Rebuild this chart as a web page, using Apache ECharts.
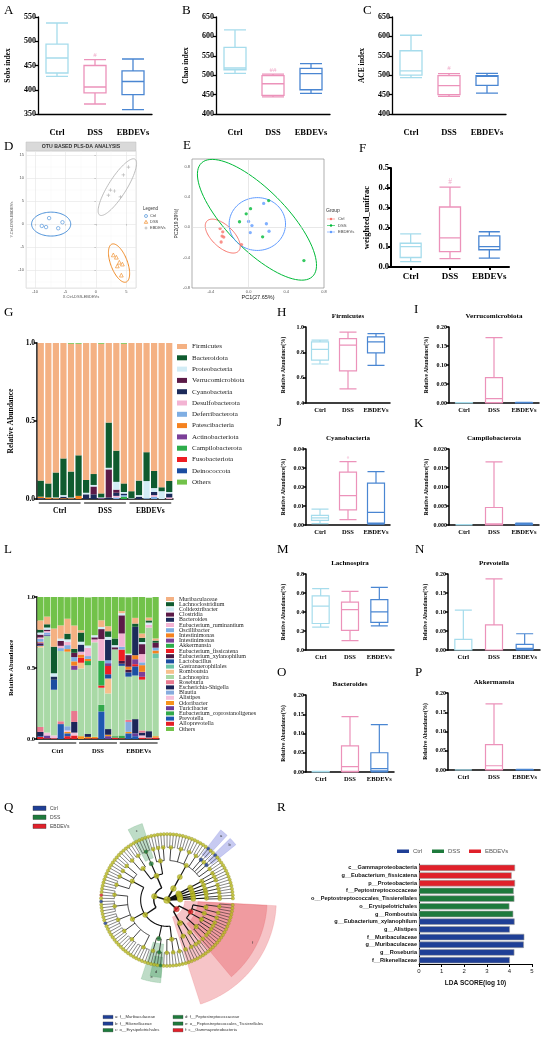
<!DOCTYPE html>
<html>
<head>
<meta charset="utf-8">
<title>Gut microbiota figure</title>
<script src="https://cdn.jsdelivr.net/npm/echarts@6.0.0/dist/echarts.min.js"></script>
<style>
  html, body { margin: 0; padding: 0; background: #fff; }
  #fig { width: 550px; height: 1040px; }
</style>
</head>
<body>
<div id="fig"></div>
<script>
// ---------------- data ----------------
const groups = ["Ctrl", "DSS", "EBDEVs"];
const samples = ["C1", "C2", "C3", "C4", "C5", "C6", "D1", "D2", "D3", "D4", "D5", "D6", "E1", "E2", "E3", "E4", "E5", "E6"];
const groupSpans = [[0, 5], [6, 11], [12, 17]];

// boxes: [min, Q1, median, Q3, max] for Ctrl, DSS, EBDEVs
const sobsIndex = [[427.6, 434.5, 465.5, 494, 537.6], [370.6, 393.4, 405.7, 450, 462], [359, 389.8, 417, 439, 463.4]];
const chaoIndex = [[504.6, 514, 518.6, 571.7, 617], [444, 448, 478, 498.7, 503], [453, 462.5, 504, 517.6, 529.7]];
const aceIndex = [[494, 500, 511, 563, 603], [445.5, 450, 473, 499, 504], [454, 474, 497, 499, 504.6]];
const unifracDist = [[0.027, 0.048, 0.103, 0.12, 0.167], [0.042, 0.078, 0.147, 0.303, 0.403], [0.045, 0.087, 0.103, 0.157, 0.178]];
const firmicutesBox = [[0.708, 0.739, 0.823, 0.883, 0.896], [0.512, 0.653, 0.857, 0.909, 0.96], [0.697, 0.796, 0.883, 0.922, 0.948]];
const verrucoBox = [[0, 0, 0, 0.0005, 0.001], [0, 0.001, 0.0114, 0.0667, 0.172], [0, 0, 0.0005, 0.001, 0.002]];
const cyanoBox = [[0.0007, 0.0024, 0.0037, 0.0051, 0.0084], [0.0028, 0.008, 0.0155, 0.0278, 0.0334], [0.0005, 0.001, 0.0066, 0.022, 0.0281]];
const campiloBox = [[0, 0, 0, 0, 0.0001], [0, 0, 0.0003, 0.0046, 0.0166], [0, 0.0001, 0.0002, 0.0003, 0.0005]];
const lachnospiraBox = [[0.241, 0.279, 0.461, 0.569, 0.646], [0.098, 0.206, 0.426, 0.503, 0.618], [0.255, 0.29, 0.402, 0.531, 0.66]];
const prevotellaBox = [[0, 0, 0, 0.028, 0.105], [0, 0, 0, 0.066, 0.187], [0, 0.002, 0.0044, 0.0148, 0.0428]];
const bacteroidesBox = [[0, 0, 0, 0.001, 0.002], [0, 0.002, 0.014, 0.068, 0.144], [0, 0.003, 0.009, 0.05, 0.123]];
const akkermansiaBox = [[0, 0, 0, 0, 0.0005], [0, 0.001, 0.011, 0.066, 0.172], [0, 0, 0.0005, 0.001, 0.0015]];

// PLS-DA scores (D) and ellipses [cx, cy, ux, uy, vx, vy]
const plsCtrl = [[-7.7, 1.3], [-8.9, -0.4], [-8.2, -0.65], [-6.2, -0.9], [-5.5, 0.4]];
const plsDss = [[2.87, -6.7], [3.37, -7.2], [3.86, -8.3], [3.53, -9.1], [4.36, -8.7], [4.19, -11.1]];
const plsEbdevs = [[5.35, 12.4], [4.52, 10.7], [2.38, 7.4], [3.04, 7.2], [2.05, 6.3], [4.03, 5.9]];
const plsEllipses = [[-7.36, 0, 3.22, 0, 0, 2.6], [3.81, -8.48, -1.16, 4.13, 1.3, 0.6], [3.53, 8.04, 2.9, 6.08, 1.26, -1.04]];

// PCoA (E)
const pcCtrl = [[-0.302, -0.017], [-0.274, -0.06], [-0.281, -0.116], [-0.263, -0.129], [-0.291, -0.194], [-0.075, -0.228]];
const pcDss = [[-0.096, 0.073], [-0.025, 0.177], [0.021, 0.245], [0.213, 0.352], [0.149, -0.125], [0.587, -0.439]];
const pcEbdevs = [[0.16, 0.314], [0, 0.077], [0.036, 0.022], [0.018, -0.069], [0.189, 0.047], [0.217, -0.052]];
const pcEllipses = [[-0.274, -0.116, 0.166, -0.2, 0.083, 0.1], [0.089, 0.099, 0.587, -0.75, 0.233, 0.266], [0.093, 0.043, 0.299, 0, 0, 0.348]];

// phylum relative abundance (G), 18 samples
const firmicutes = [0.882, 0.90, 0.83, 0.74, 0.819, 0.715, 0.878, 0.84, 0.959, 0.51, 0.69, 0.895, 0.95, 0.882, 0.70, 0.82, 0.925, 0.884];
const bacteroidota = [0.103, 0.09, 0.16, 0.235, 0.166, 0.26, 0.082, 0.07, 0.026, 0.29, 0.20, 0.055, 0.045, 0.093, 0.185, 0.11, 0.025, 0.071];
const proteobacteria = [0, 0, 0.005, 0.01, 0, 0, 0.01, 0.01, 0.005, 0.01, 0.05, 0.01, 0.005, 0.01, 0.11, 0.025, 0.05, 0.01];
const verrucomicrobiota = [0, 0, 0, 0, 0, 0, 0, 0.05, 0, 0.18, 0.02, 0, 0, 0, 0, 0, 0, 0];
const cyanobacteria = [0, 0, 0, 0.01, 0, 0, 0.03, 0.03, 0, 0.01, 0.02, 0.01, 0, 0.015, 0, 0.02, 0, 0.025];
const desulfobacterota = [0, 0, 0, 0, 0, 0, 0, 0, 0, 0, 0.01, 0, 0, 0, 0, 0.01, 0, 0.01];
const deferribacterota = [0, 0, 0, 0, 0.005, 0, 0, 0, 0, 0, 0.01, 0.01, 0, 0, 0.005, 0.015, 0, 0];
const patescibacteria = [0.01, 0.01, 0.005, 0.005, 0.005, 0.02, 0, 0, 0, 0, 0, 0, 0, 0, 0, 0, 0, 0];
const actinobacteriota = [0, 0, 0, 0, 0, 0, 0, 0, 0.005, 0, 0, 0, 0, 0, 0, 0, 0, 0];
const campilobacterota = [0, 0, 0, 0, 0, 0, 0, 0, 0, 0, 0, 0.015, 0, 0, 0, 0, 0, 0];
const fusobacteriota = [0, 0, 0, 0, 0, 0, 0, 0, 0, 0, 0, 0, 0, 0, 0, 0, 0, 0];
const deinococcota = [0.005, 0, 0, 0, 0, 0, 0, 0, 0, 0, 0, 0, 0, 0, 0, 0, 0, 0];
const phylumOthers = [0, 0, 0, 0, 0.005, 0.005, 0, 0, 0.005, 0, 0, 0.005, 0, 0, 0, 0, 0, 0];
const phylumNames = ["Firmicutes", "Bacteroidota", "Proteobacteria", "Verrucomicrobiota", "Cyanobacteria", "Desulfobacterota", "Deferribacterota", "Patescibacteria", "Actinobacteriota", "Campilobacterota", "Fusobacteriota", "Deinococcota", "Others"];
const phylumValues = [firmicutes, bacteroidota, proteobacteria, verrucomicrobiota, cyanobacteria, desulfobacterota, deferribacterota, patescibacteria, actinobacteriota, campilobacterota, fusobacteriota, deinococcota, phylumOthers];

// genus relative abundance (L), 18 samples
const muribaculaceae = [0.065, 0.054, 0.128, 0.093, 0.105, 0.164, 0.016, 0, 0, 0.047, 0.035, 0, 0.015, 0, 0.04, 0.03, 0.02, 0.015];
const lachnoclostridium = [0.02, 0.023, 0.187, 0, 0.04, 0.028, 0.065, 0, 0, 0, 0.04, 0.047, 0, 0, 0.023, 0.03, 0.015, 0.015];
const colidextribacter = [0.015, 0.015, 0.023, 0.016, 0.018, 0, 0.02, 0.016, 0.015, 0.015, 0.02, 0.015, 0.015, 0.01, 0, 0.015, 0.015, 0];
const clostridia = [0.02, 0.01, 0, 0.035, 0, 0.03, 0, 0, 0.015, 0.07, 0, 0.015, 0.128, 0.082, 0, 0.07, 0, 0.035];
const bacteroides = [0, 0, 0.023, 0, 0, 0, 0.05, 0, 0, 0, 0.145, 0, 0, 0, 0.2, 0, 0, 0];
const eubRuminantium = [0.01, 0.01, 0, 0.016, 0.023, 0, 0.02, 0.058, 0.02, 0.152, 0, 0, 0.093, 0, 0, 0.058, 0.02, 0];
const oscillibacter = [0.02, 0.015, 0, 0.02, 0.028, 0.03, 0, 0.02, 0, 0, 0.02, 0, 0.02, 0, 0, 0.02, 0, 0.02];
const intestinimonasA = [0.005, 0, 0, 0, 0.018, 0.03, 0.023, 0.015, 0, 0, 0, 0, 0, 0.02, 0.028, 0.047, 0, 0.02];
const intestinimonasB = [0.01, 0.005, 0, 0, 0, 0.03, 0, 0, 0, 0, 0.02, 0, 0, 0, 0.035, 0.035, 0, 0];
const akkermansia = [0, 0, 0, 0, 0, 0, 0, 0.03, 0, 0.175, 0, 0, 0, 0, 0, 0, 0, 0];
const eubFissicatena = [0, 0, 0, 0, 0, 0, 0.035, 0, 0, 0.016, 0.058, 0, 0.08, 0, 0.015, 0.02, 0, 0];
const eubXylanophilum = [0.01, 0, 0, 0, 0, 0, 0, 0, 0, 0, 0, 0, 0.02, 0.02, 0, 0, 0, 0];
const lactobacillus = [0.005, 0.005, 0.07, 0, 0, 0, 0, 0, 0, 0, 0.03, 0, 0.015, 0.03, 0.065, 0, 0, 0];
const gastranaerophilales = [0, 0, 0, 0, 0, 0, 0, 0, 0, 0, 0, 0, 0, 0, 0, 0, 0, 0.035];
const romboutsia = [0.01, 0, 0, 0, 0, 0, 0.04, 0, 0, 0, 0.105, 0, 0, 0, 0, 0, 0, 0];
const lachnospira = [0.56, 0.68, 0.322, 0.495, 0.525, 0.29, 0.477, 0.484, 0.666, 0.12, 0.251, 0.611, 0.49, 0.304, 0.307, 0.358, 0.73, 0.548];
const roseburia = [0.035, 0, 0, 0.02, 0, 0.077, 0, 0, 0, 0, 0, 0, 0, 0.015, 0, 0.015, 0, 0];
const escherichia = [0.03, 0, 0, 0, 0, 0.075, 0, 0.02, 0, 0, 0.04, 0, 0, 0, 0.1, 0.02, 0.045, 0];
const blautia = [0, 0, 0, 0, 0.03, 0, 0, 0, 0, 0, 0, 0, 0, 0.07, 0, 0, 0, 0];
const alistipes = [0, 0.02, 0.02, 0, 0.01, 0.02, 0, 0, 0, 0, 0, 0, 0, 0, 0, 0.015, 0.005, 0];
const odoribacter = [0, 0, 0, 0, 0.01, 0, 0.02, 0.01, 0.01, 0, 0.01, 0, 0, 0.01, 0, 0, 0, 0.01];
const turicibacter = [0, 0.02, 0, 0, 0, 0, 0, 0, 0, 0, 0.02, 0, 0, 0, 0.02, 0, 0, 0];
const eubCoprostanoligenes = [0, 0, 0, 0, 0, 0, 0, 0, 0, 0.047, 0, 0.01, 0.02, 0, 0, 0, 0, 0];
const prevotella = [0.005, 0, 0, 0.105, 0.02, 0, 0, 0, 0, 0.194, 0, 0, 0, 0.04, 0.02, 0, 0, 0];
const alloprevotella = [0.015, 0.005, 0.005, 0, 0.02, 0.025, 0, 0.005, 0.005, 0, 0, 0.01, 0.005, 0, 0, 0.01, 0.005, 0.01];
const genusOthers = [0.165, 0.138, 0.222, 0.2, 0.152, 0.2, 0.234, 0.339, 0.269, 0.164, 0.206, 0.292, 0.098, 0.397, 0.147, 0.257, 0.14, 0.292];
const genusNames = ["Muribaculaceae", "Lachnoclostridium", "Colidextribacter", "Clostridia", "Bacteroides", "Eubacterium_ruminantium", "Oscillibacter", "Intestinimonas", "Intestinimonas ", "Akkermansia", "Eubacterium_fissicatena", "Eubacterium_xylanophilum", "Lactobacillus", "Gastranaerophilales", "Romboutsia", "Lachnospira", "Roseburia", "Escherichia-Shigella", "Blautia", "Alistipes", "Odoribacter", "Turicibacter", "Eubacterium_coprostanoligenes", "Prevotella", "Alloprevotella", "Others"];
const genusValues = [muribaculaceae, lachnoclostridium, colidextribacter, clostridia, bacteroides, eubRuminantium, oscillibacter, intestinimonasA, intestinimonasB, akkermansia, eubFissicatena, eubXylanophilum, lactobacillus, gastranaerophilales, romboutsia, lachnospira, roseburia, escherichia, blautia, alistipes, odoribacter, turicibacter, eubCoprostanoligenes, prevotella, alloprevotella, genusOthers];

// LEfSe cladogram (Q): phylum > class > order > family (number = genera count)
const cladeTree = [
  [[[3, 2], [2], [2, 1, 2], [1, 2, 2]], [[2, 1], [3, 2]]],                           // p__Proteobacteria
  [[[3, 2, 3], [3, 2], [6, 5, 4, 6, 5, 4], [4, 3, 2, 3]], [[3, 3], [4], [2, 2, 2]]], // p__Firmicutes
  [[[4, 4, 3, 3, 2, 1, 2, 2]]],                                                   // p__Bacteroidota
  [[[2, 1]]], [[[2]]], [[[2], [1]]], [[[2]]], [[[1, 1]]]
];
// [node path, group] coloured nodes
const cladeMarked = [["0", 2], ["0.0", 2], ["1.0.1", 1], ["1.0.1.0", 1], ["1.0.1.0.0", 1], ["1.1.1", 1], ["1.1.1.0", 1],
  ["1.0.2.3.3", 0], ["1.0.2.4.4", 0], ["1.0.2.5.1", 2], ["2.0.0.4", 0], ["2.0.0.4.0", 0], ["2.0.0.6", 0], ["2.0.0.6.0", 0]];
// [node path, group, outer ring, letter]
const cladeShades = [["0", 2, 8.3, ""], ["0.0", 2, 7.6, "f"], ["1.0.1", 1, 6.3, "e"], ["1.0.1.0", 1, 5.9, "d"],
  ["1.1.1", 1, 6.1, "c"], ["2.0.0.4", 0, 6.7, "a"], ["2.0.0.6", 0, 6.7, "b"]];
const cladeKey = ["a: f__Muribaculaceae", "b: f__Rikenellaceae", "c: o__Erysipelotrichales", "d: f__Peptostreptococcaceae", "e: o__Peptostreptococcales_Tissierellales", "f: c__Gammaproteobacteria"];
const cladeKeyGroup = [0, 0, 1, 1, 1, 2];

// LDA scores (R)
const ldaNames = ["c__Gammaproteobacteria", "g__Eubacterium_fissicatena", "p__Proteobacteria", "f__Peptostreptococcaceae", "o__Peptostreptococcales_Tissierellales", "o__Erysipelotrichales", "g__Romboutsia", "g__Eubacterium_xylanophilum", "g__Alistipes", "f__Muribaculaceae", "g__Muribaculaceae", "g__Roseburia", "f__Rikenellaceae"];
const ldaScores = [4.25, 4.1, 4.25, 4.19, 4.22, 4.0, 4.17, 4.23, 4.02, 4.66, 4.64, 4.22, 4.02];
const ldaGroup = [2, 2, 2, 1, 1, 1, 1, 0, 0, 0, 0, 0, 0];

// ---------------- styles ----------------
const serif = "'Liberation Serif', 'Times New Roman', serif";
const sans = "'Liberation Sans', Arial, sans-serif";
const boxColors = ["#A6DCEC", "#EC92BA", "#4A86D2"];
const plsColors = ["#4A90D9", "#F08A24", "#BDBDBD"];
const pcColors = ["#F8766D", "#00BA38", "#619CFF"];
const lefseColors = ["#1F3F96", "#1E7A3C", "#E0202A"];
const shadeColors = ["rgba(80,90,210,0.32)", "rgba(40,140,70,0.3)", "rgba(225,60,70,0.3)"];
const phylumPalette = ["#F4B183", "#0F5B2F", "#D2ECF5", "#5B1A47", "#1C2B5A", "#F3B3D3", "#7FAEE3", "#F5821F", "#7B3F98", "#2EAD4B", "#EE1D23", "#1B4DA1", "#72C24A"];
const genusPalette = ["#F4B183", "#0F5B2F", "#D2ECF5", "#5B1A47", "#1C2B5A", "#F3B3D3", "#7FAEE3", "#F5821F", "#7B3F98", "#2EAD4B", "#EE1D23", "#4A1942", "#1B4DA1", "#6BC4A6", "#F7C08C", "#A9D9A6", "#E9798F", "#1C2559", "#86ABDE", "#F5C0DA", "#F7941D", "#6A3D9A", "#33A94A", "#1F57B0", "#E41F26", "#72C24A"];

const grid = [], xAxis = [], yAxis = [], series = [], legend = [], graphic = [];

function txt(text, x, y, o) {
  o = o || {};
  graphic.push({
    type: "text", x: x, y: y, rotation: o.rotation || 0, silent: true,
    style: {
      text: text, fill: o.color || "#000", fontSize: o.size || 7, fontFamily: o.family || serif,
      fontWeight: o.weight || "normal", align: o.align || "left", textAlign: o.align || "left",
      verticalAlign: "middle", textVerticalAlign: "middle"
    }
  });
}

// ---------------- box plot panels ----------------
function boxPanel(p) {
  const i = grid.length;
  const axisStyle = { color: "#000", width: p.line };
  grid.push({ left: p.left, top: p.top, width: p.width, height: p.height, outerBoundsMode: "none" });
  xAxis.push({
    gridIndex: i, type: "category", data: groups,
    axisLine: { lineStyle: axisStyle },
    axisTick: { show: !!p.ticks, alignWithLabel: true, length: 3, lineStyle: axisStyle },
    axisLabel: { interval: 0, hideOverlap: false, color: "#000", fontFamily: serif, fontWeight: "bold", fontSize: p.font + 0.5, margin: p.labelGap }
  });
  yAxis.push({
    gridIndex: i, type: "value", min: p.min, max: p.max, interval: p.step,
    name: p.name, nameLocation: "middle", nameGap: p.nameGap,
    nameTextStyle: { color: "#000", fontFamily: serif, fontWeight: "bold", fontSize: p.nameSize },
    axisLine: { show: true, lineStyle: axisStyle },
    axisTick: { show: true, length: 3, lineStyle: axisStyle },
    splitLine: { show: false },
    axisLabel: { color: "#000", fontFamily: serif, fontWeight: "bold", fontSize: p.font, margin: 2, formatter: v => v.toFixed(p.digits) }
  });
  series.push({
    type: "boxplot", xAxisIndex: i, yAxisIndex: i, boxWidth: [p.box, p.box], emphasis: { disabled: true },
    data: p.data.map((v, k) => ({ value: v, itemStyle: { color: "#fff", borderColor: boxColors[k], borderWidth: p.boxLine } }))
  });
  if (p.sig) {
    series.push({
      type: "scatter", xAxisIndex: i, yAxisIndex: i, symbolSize: 1, itemStyle: { color: "transparent" },
      data: [[1, p.sig[0]]],
      label: { show: true, position: "inside", formatter: p.sig[1], color: boxColors[1], fontFamily: serif, fontSize: p.font - 1 }
    });
  }
  if (p.title) txt(p.title, p.left + p.width / 2, p.top - 11, { align: "center", weight: "bold", size: 7 });
}

const rowTop = { font: 8, nameSize: 7.5, nameGap: 26, line: 1.3, box: 22, boxLine: 1.3, labelGap: 14, top: 17, width: 114, height: 97 };
boxPanel(Object.assign({}, rowTop, { left: 38, min: 350, max: 550, step: 50, digits: 0, name: "Sobs index", data: sobsIndex, sig: [472, "#"] }));
boxPanel(Object.assign({}, rowTop, { left: 216, min: 400, max: 650, step: 50, digits: 0, name: "Chao index", data: chaoIndex, sig: [514, "##"] }));
boxPanel(Object.assign({}, rowTop, { left: 392, min: 400, max: 650, step: 50, digits: 0, name: "ACE index", data: aceIndex, sig: [518, "#"] }));
boxPanel({ left: 391, top: 168, width: 118, height: 99, min: 0, max: 0.5, step: 0.1, digits: 1, name: "weighted_unifrac", data: unifracDist, sig: [0.43, "#"],
  font: 8.5, nameSize: 8.5, nameGap: 20, line: 2, box: 21, boxLine: 1.3, labelGap: 5, ticks: true });

const small = { name: "Relative Abundance(%)", font: 6, nameSize: 5.5, nameGap: 19, line: 1.5, box: 17, boxLine: 1.2, labelGap: 4, height: 76 };
boxPanel(Object.assign({}, small, { left: 306, top: 327, width: 84, min: 0.4, max: 1, step: 0.2, digits: 1, title: "Firmicutes", data: firmicutesBox }));
boxPanel(Object.assign({}, small, { left: 449, top: 327, width: 90, min: 0, max: 0.2, step: 0.05, digits: 2, title: "Verrucomicrobiota", data: verrucoBox }));
boxPanel(Object.assign({}, small, { left: 306, top: 449, width: 84, min: 0, max: 0.04, step: 0.01, digits: 2, title: "Cyanobacteria", data: cyanoBox, sig: [0.0355, "#"] }));
boxPanel(Object.assign({}, small, { left: 449, top: 449, width: 90, min: 0, max: 0.02, step: 0.005, digits: 3, title: "Campilobacterota", data: campiloBox }));
boxPanel(Object.assign({}, small, { left: 306, top: 574, width: 88, min: 0, max: 0.8, step: 0.2, digits: 1, title: "Lachnospira", data: lachnospiraBox }));
boxPanel(Object.assign({}, small, { left: 448, top: 574, width: 92, min: 0, max: 0.2, step: 0.05, digits: 2, title: "Prevotella", data: prevotellaBox }));
boxPanel(Object.assign({}, small, { left: 306, top: 695, width: 88, height: 77, min: 0, max: 0.2, step: 0.05, digits: 2, title: "Bacteroides", data: bacteroidesBox }));
boxPanel(Object.assign({}, small, { left: 448, top: 693, width: 92, height: 77, min: 0, max: 0.2, step: 0.05, digits: 2, title: "Akkermansia", data: akkermansiaBox }));

// ---------------- stacked composition panels ----------------
function stackPanel(p) {
  const i = grid.length;
  const axisStyle = { color: "#000", width: 1.5 };
  grid.push({ left: p.left, top: p.top, width: p.width, height: p.height, outerBoundsMode: "none" });
  xAxis.push({
    gridIndex: i, type: "category", data: samples,
    axisLine: { lineStyle: axisStyle },
    axisTick: { alignWithLabel: true, interval: 0, length: 4, lineStyle: { color: "#000", width: 1 } },
    axisLabel: { show: false }
  });
  yAxis.push({
    gridIndex: i, type: "value", min: 0, max: 1, interval: 0.5,
    name: "Relative Abundance", nameLocation: "middle", nameGap: p.nameGap,
    nameTextStyle: { color: "#000", fontFamily: serif, fontWeight: "bold", fontSize: p.font },
    axisLine: { show: true, lineStyle: axisStyle },
    axisTick: { show: true, length: 3, lineStyle: axisStyle },
    splitLine: { show: false },
    axisLabel: { color: "#000", fontFamily: serif, fontWeight: "bold", fontSize: p.font, margin: 2, formatter: v => v.toFixed(1) }
  });
  const n = p.names.length;
  const order = [...Array(n - 1).keys()].reverse().concat(n - 1);
  order.forEach(k => series.push({
    type: "bar", name: p.names[k], stack: p.stack, xAxisIndex: i, yAxisIndex: i,
    barCategoryGap: p.gap, itemStyle: { color: p.colors[k] }, emphasis: { disabled: true }, data: p.values[k]
  }));
  series.push({
    type: "custom", xAxisIndex: i, yAxisIndex: i, silent: true, clip: false,
    data: groupSpans.map((s, k) => [s[0], 0, s[1], k]),
    renderItem: (params, api) => {
      const a = api.coord([api.value(0), 0]), b = api.coord([api.value(2), 0]);
      const y = a[1] + 4;
      return {
        type: "group", children: [
          { type: "line", shape: { x1: a[0] - 2, y1: y, x2: b[0] + 2, y2: y }, style: { stroke: "#000", lineWidth: 1.2 } },
          { type: "text", style: { text: groups[api.value(3)], x: (a[0] + b[0]) / 2, y: y + 8, align: "center", textAlign: "center",
            verticalAlign: "middle", textVerticalAlign: "middle", fontFamily: serif, fontWeight: "bold", fontSize: p.font, fill: "#000" } }
        ]
      };
    }
  });
  legend.push(Object.assign({
    orient: "vertical", icon: "rect", selectedMode: false, padding: 0, data: p.names
  }, p.legend));
}

stackPanel({ left: 37, top: 343, width: 136, height: 156, gap: "18%", font: 7.5, nameGap: 22, stack: "phylum",
  names: phylumNames, values: phylumValues, colors: phylumPalette,
  legend: { left: 177, top: 343, itemWidth: 10, itemHeight: 5, itemGap: 4.3, textStyle: { fontFamily: serif, color: "#222", fontSize: 7, lineHeight: 6 } } });
stackPanel({ left: 37, top: 597, width: 122, height: 142, gap: "8%", font: 6.5, nameGap: 22, stack: "genus",
  names: genusNames, values: genusValues, colors: genusPalette,
  legend: { left: 166, top: 596, itemWidth: 8, itemHeight: 4, itemGap: -0.8, textStyle: { fontFamily: serif, color: "#222", fontSize: 6, lineHeight: 4 } } });

// ---------------- D: PLS-DA ----------------
function ellipseSeries(i, ellipses, colors) {
  series.push({
    type: "custom", xAxisIndex: i, yAxisIndex: i, silent: true,
    data: ellipses.map(e => [e[0], e[1]]),
    renderItem: (params, api) => {
      const e = ellipses[params.dataIndex], pts = [];
      for (let s = 0; s <= 90; s++) {
        const t = s / 90 * 2 * Math.PI;
        pts.push(api.coord([e[0] + e[2] * Math.cos(t) + e[4] * Math.sin(t), e[1] + e[3] * Math.cos(t) + e[5] * Math.sin(t)]));
      }
      return { type: "polyline", shape: { points: pts }, style: { stroke: colors[params.dataIndex], fill: null, lineWidth: 1 } };
    }
  });
}

(function plsPanel() {
  const i = grid.length;
  const tiny = { fontSize: 4, color: "#555", fontFamily: sans };
  grid.push({ left: 26, top: 151, width: 110, height: 137, show: true, backgroundColor: "#fff", borderColor: "#D4D4D4", borderWidth: 0.6, outerBoundsMode: "none" });
  xAxis.push({
    gridIndex: i, type: "value", min: -11.5, max: 6.6, splitNumber: 4,
    name: "X.Ctrl-DSS-EBDEVs", nameLocation: "middle", nameGap: 7, nameTextStyle: tiny,
    axisLine: { show: false }, axisTick: { show: true, length: 1.5, lineStyle: { color: "#999", width: 0.5 } },
    axisLabel: Object.assign({ margin: 2, showMinLabel: false, showMaxLabel: false }, tiny),
    splitLine: { lineStyle: { color: "#E4E4E4", width: 0.6 } },
    minorTick: { show: false, splitNumber: 2 }, minorSplitLine: { show: true, lineStyle: { color: "#F2F2F2", width: 0.4 } }
  });
  yAxis.push({
    gridIndex: i, type: "value", min: -13.9, max: 15.9,
    name: "Y.Ctrl-DSS-EBDEVs", nameLocation: "middle", nameGap: 10, nameTextStyle: tiny,
    axisLine: { show: false }, axisTick: { show: true, length: 1.5, lineStyle: { color: "#999", width: 0.5 } },
    axisLabel: Object.assign({ margin: 2, showMinLabel: false, showMaxLabel: false }, tiny),
    splitLine: { lineStyle: { color: "#E4E4E4", width: 0.6 } },
    minorTick: { show: false, splitNumber: 2 }, minorSplitLine: { show: true, lineStyle: { color: "#F2F2F2", width: 0.4 } }
  });
  ellipseSeries(i, plsEllipses, plsColors);
  series.push({ type: "scatter", xAxisIndex: i, yAxisIndex: i, symbol: "circle", symbolSize: 3.5, data: plsCtrl,
    itemStyle: { color: "#fff", borderColor: plsColors[0], borderWidth: 0.8 } });
  series.push({ type: "scatter", xAxisIndex: i, yAxisIndex: i, symbol: "triangle", symbolSize: 3.8, data: plsDss,
    itemStyle: { color: "#fff", borderColor: plsColors[1], borderWidth: 0.8 } });
  series.push({ type: "scatter", xAxisIndex: i, yAxisIndex: i, symbol: "path://M0.4,0H0.6V0.4H1V0.6H0.6V1H0.4V0.6H0V0.4H0.4Z", symbolSize: 3.5, data: plsEbdevs,
    itemStyle: { color: "#A8A8A8" } });
  graphic.push({ type: "rect", silent: true, shape: { x: 26, y: 142, width: 110, height: 9 }, style: { fill: "#D9D9D9", stroke: "#BDBDBD", lineWidth: 0.5 } });
  txt("OTU BASED PLS-DA ANALYSIS", 81, 146.6, { align: "center", weight: "bold", size: 5.2, family: sans, color: "#333" });
  txt("Legend", 143, 209, { size: 4.5, family: sans, color: "#333" });
  graphic.push({ type: "circle", silent: true, shape: { cx: 146, cy: 216, r: 1.5 }, style: { fill: "#fff", stroke: plsColors[0], lineWidth: 0.7 } });
  graphic.push({ type: "polygon", silent: true, shape: { points: [[146, 220.3], [144.3, 223.3], [147.7, 223.3]] }, style: { fill: "#fff", stroke: plsColors[1], lineWidth: 0.7 } });
  graphic.push({ type: "polyline", silent: true, shape: { points: [[144.5, 228], [147.5, 228]] }, style: { stroke: "#A8A8A8", lineWidth: 0.7 } });
  graphic.push({ type: "polyline", silent: true, shape: { points: [[146, 226.5], [146, 229.5]] }, style: { stroke: "#A8A8A8", lineWidth: 0.7 } });
  groups.forEach((g, k) => txt(g, 150, 216 + k * 6, { size: 4, family: sans, color: "#444" }));
})();

// ---------------- E: PCoA ----------------
(function pcoaPanel() {
  const i = grid.length;
  const tiny = { fontSize: 4, color: "#555", fontFamily: sans };
  const lab = v => (Math.abs(Math.round(v / 0.4) * 0.4 - v) < 1e-6 ? v.toFixed(1) : "");
  grid.push({ left: 192, top: 159, width: 132, height: 129, show: true, backgroundColor: "#fff", borderColor: "#8C8C8C", borderWidth: 0.7, outerBoundsMode: "none" });
  xAxis.push({
    gridIndex: i, type: "value", min: -0.6, max: 0.8, interval: 0.2,
    name: "PC1(27.65%)", nameLocation: "middle", nameGap: 6, nameTextStyle: { fontSize: 5.5, color: "#222", fontFamily: sans },
    axisLine: { show: false }, axisTick: { show: false }, splitLine: { show: false },
    axisLabel: Object.assign({ margin: 2, formatter: lab }, tiny)
  });
  yAxis.push({
    gridIndex: i, type: "value", min: -0.8, max: 0.9, interval: 0.2,
    name: "PC2(19.39%)", nameLocation: "middle", nameGap: 9, nameTextStyle: { fontSize: 5, color: "#222", fontFamily: sans },
    axisLine: { show: false }, axisTick: { show: false }, splitLine: { show: false },
    axisLabel: Object.assign({ margin: 2, formatter: lab }, tiny)
  });
  ellipseSeries(i, pcEllipses, pcColors);
  [pcCtrl, pcDss, pcEbdevs].forEach((pts, k) => series.push({
    type: "scatter", xAxisIndex: i, yAxisIndex: i, symbolSize: 3.3, data: pts, itemStyle: { color: pcColors[k] },
    markLine: k === 0 ? { silent: true, symbol: "none", label: { show: false }, lineStyle: { color: "#D8D8D8", type: "solid", width: 0.6 },
      data: [{ xAxis: 0 }, { yAxis: 0 }] } : undefined
  }));
  txt("Group", 326, 211, { size: 5, family: sans, color: "#333" });
  groups.forEach((g, k) => {
    const y = 219 + k * 6.5;
    graphic.push({ type: "polyline", silent: true, shape: { points: [[327, y], [335, y]] }, style: { stroke: pcColors[k], lineWidth: 0.6 } });
    graphic.push({ type: "circle", silent: true, shape: { cx: 331, cy: y, r: 1.2 }, style: { fill: pcColors[k] } });
    txt(g, 338, y, { size: 4.2, family: sans, color: "#444" });
  });
})();

// ---------------- Q: cladogram ----------------
const cladeNodes = [], cladeEdges = [], cladeIndex = {};
const countLeaves = n => (n === 0 ? 1 : typeof n === "number" ? n : n.reduce((s, c) => s + countLeaves(c), 0));
const leafStep = 357 / countLeaves(cladeTree);
let leafSeen = 0;
function walkClade(node, depth, path) {
  let res;
  if (node === 0) {
    const a = 3 + (leafSeen + 0.5) * leafStep;
    leafSeen++;
    res = { a: a, lo: a, hi: a };
  } else {
    const kids = typeof node === "number" ? new Array(node).fill(0) : node;
    const sub = kids.map((k, j) => walkClade(k, depth + 1, path === "" ? String(j) : path + "." + j));
    const first = sub[0], last = sub[sub.length - 1];
    res = { a: (first.a + last.a) / 2, lo: first.lo, hi: last.hi };
    sub.forEach(s => cladeEdges.push([depth, depth + 1, s.a, s.a, depth]));
    if (depth > 0 && sub.length > 1) cladeEdges.push([depth, depth, first.a, last.a, depth]);
  }
  const rec = Object.assign({ depth: depth, path: path }, res);
  cladeNodes.push(rec);
  cladeIndex[path] = rec;
  return res;
}
walkClade(cladeTree, 0, "");
const markedGroup = {};
cladeMarked.forEach(m => { markedGroup[m[0]] = m[1]; });
const edgeWidth = [1.6, 1.4, 1.1, 0.8, 0.5];
const nodeSize = [7, 5.8, 5.2, 4.6, 4, 3.4];

series.push({
  type: "custom", coordinateSystem: "polar", polarIndex: 0, silent: true,
  data: cladeShades.map(s => [cladeIndex[s[0]].depth, cladeIndex[s[0]].a]),
  renderItem: (params, api) => {
    const s = cladeShades[params.dataIndex], n = cladeIndex[s[0]];
    const lo = n.lo - leafStep / 2, hi = n.hi + leafStep / 2, r0 = n.depth + 0.35, r1 = s[2];
    const pts = [];
    for (let a = lo; a < hi; a += 0.5) pts.push(api.coord([r1, a]));
    pts.push(api.coord([r1, hi]));
    for (let a = hi; a > lo; a -= 0.5) pts.push(api.coord([r0, a]));
    pts.push(api.coord([r0, lo]));
    const lp = api.coord([r1 - 0.35, (lo + hi) / 2]);
    return {
      type: "group", children: [
        { type: "polygon", shape: { points: pts }, style: { fill: shadeColors[s[1]], stroke: shadeColors[s[1]], lineWidth: 0.5 } },
        { type: "text", style: { text: s[3], x: lp[0], y: lp[1], align: "center", textAlign: "center", verticalAlign: "middle",
          textVerticalAlign: "middle", fontSize: 4, fontFamily: sans, fill: "#333" } }
      ]
    };
  }
});
series.push({
  type: "custom", coordinateSystem: "polar", polarIndex: 0, silent: true,
  data: cladeEdges.map(e => [e[0], e[2]]),
  renderItem: (params, api) => {
    const e = cladeEdges[params.dataIndex], pts = [];
    if (e[2] === e[3]) {
      pts.push(api.coord([e[0], e[2]]), api.coord([e[1], e[2]]));
    } else {
      for (let a = e[2]; a < e[3]; a += 1) pts.push(api.coord([e[0], a]));
      pts.push(api.coord([e[0], e[3]]));
    }
    return { type: "polyline", shape: { points: pts }, style: { stroke: "#111", fill: null, lineWidth: edgeWidth[e[4]] } };
  }
});
series.push({
  type: "scatter", coordinateSystem: "polar", polarIndex: 0, silent: true,
  data: cladeNodes.map(n => ({
    value: [n.depth, n.a], symbolSize: nodeSize[n.depth],
    itemStyle: { color: n.path in markedGroup ? lefseColors[markedGroup[n.path]] : "#BDBD22", borderColor: "#6E6E12", borderWidth: 0.3 }
  }))
});
groups.forEach((g, k) => {
  graphic.push({ type: "rect", silent: true, shape: { x: 33, y: 806 + k * 9, width: 13, height: 4.5 }, style: { fill: lefseColors[k], stroke: "#333", lineWidth: 0.4 } });
  txt(g, 50, 808.3 + k * 9, { size: 5, family: sans, color: "#444" });
});
cladeKey.forEach((t, k) => {
  const x = k < 3 ? 103 : 173, y = 1017 + (k % 3) * 6.6;
  graphic.push({ type: "rect", silent: true, shape: { x: x, y: y - 1.7, width: 10, height: 3.4 }, style: { fill: lefseColors[cladeKeyGroup[k]], stroke: "#333", lineWidth: 0.3 } });
  txt(t, x + 12, y, { size: 4.2, family: sans, color: "#333" });
});

// ---------------- R: LDA ----------------
(function ldaPanel() {
  const i = grid.length;
  grid.push({ left: 419, top: 864, width: 113, height: 100, outerBoundsMode: "none" });
  xAxis.push({
    gridIndex: i, type: "value", min: 0, max: 5, interval: 1,
    name: "LDA SCORE(log 10)", nameLocation: "middle", nameGap: 16,
    nameTextStyle: { fontFamily: sans, fontWeight: "bold", fontSize: 6.5, color: "#111" },
    axisLine: { show: true, lineStyle: { color: "#000", width: 1 } },
    axisTick: { show: true, length: 3, lineStyle: { color: "#000", width: 1 } },
    splitLine: { show: false },
    axisLabel: { fontFamily: sans, fontSize: 6, color: "#222", margin: 4 }
  });
  yAxis.push({
    gridIndex: i, type: "category", data: ldaNames, inverse: true,
    axisLine: { show: true, lineStyle: { color: "#000", width: 1 } }, axisTick: { show: false },
    axisLabel: { interval: 0, hideOverlap: false, fontFamily: sans, fontWeight: "bold", fontSize: 5.6, color: "#111", margin: 2 }
  });
  series.push({
    type: "bar", xAxisIndex: i, yAxisIndex: i, barWidth: 6.4, emphasis: { disabled: true },
    data: ldaScores.map((v, k) => ({ value: v, itemStyle: { color: lefseColors[ldaGroup[k]], borderColor: "#9A9A9A", borderWidth: 0.6 } }))
  });
  const lx = [397, 432, 469];
  groups.forEach((g, k) => {
    graphic.push({ type: "rect", silent: true, shape: { x: lx[k], y: 849.5, width: 12, height: 3.5 }, style: { fill: lefseColors[k] } });
    txt(g, lx[k] + 16, 851.2, { size: 6, family: sans, color: "#555" });
  });
})();

// ---------------- panel letters ----------------
const panelLetters = [["A", 4, 11], ["B", 182, 11], ["C", 363, 11], ["D", 4, 147], ["E", 183, 146], ["F", 359, 149],
  ["G", 4, 313], ["H", 277, 313], ["I", 414, 310], ["J", 277, 423], ["K", 414, 424], ["L", 4, 550], ["M", 277, 550],
  ["N", 415, 550], ["O", 277, 673], ["P", 415, 673], ["Q", 4, 808], ["R", 277, 808]];
panelLetters.forEach(l => txt(l[0], l[1], l[2], { size: 13 }));

const chart = echarts.init(document.getElementById("fig"));
chart.setOption({
  animation: false,
  backgroundColor: "#fff",
  textStyle: { fontFamily: serif },
  grid: grid, xAxis: xAxis, yAxis: yAxis,
  polar: { center: [167, 900], radius: 112 },
  angleAxis: { type: "value", min: 0, max: 360, startAngle: 0, clockwise: true, show: false },
  radiusAxis: { type: "value", min: 0, max: 8.5, show: false },
  legend: legend,
  series: series,
  graphic: { elements: graphic }
});
</script>
</body>
</html>
